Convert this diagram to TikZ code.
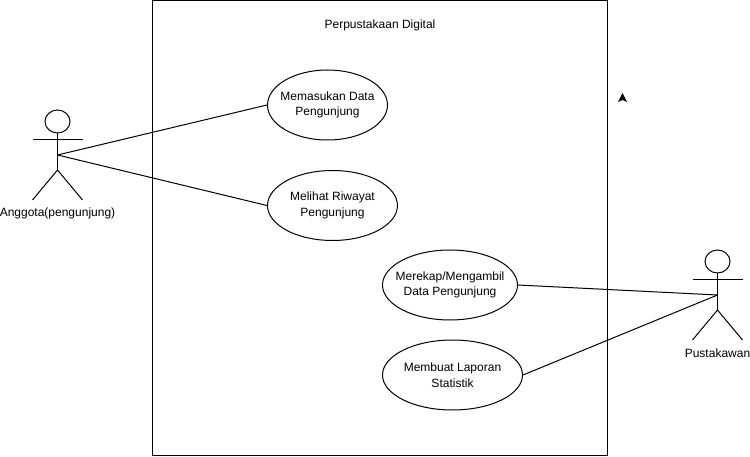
\documentclass[tikz,border=0pt]{standalone}
\usepackage{fontspec}
\setmainfont{Liberation Sans}
\usetikzlibrary{shapes.geometric}
\tikzset{
  uc/.style={draw=black,fill=white,ellipse,inner sep=0pt,line width=1pt},
  lbl/.style={inner sep=0pt,align=center,font=\fontsize{12}{15.5}\selectfont},
  ln/.style={draw=black,line width=1pt}
}
\begin{document}
\begin{tikzpicture}[x=1pt,y=-1pt]
\useasboundingbox (0,0) rectangle (750,457);
\fill[white] (0,0) rectangle (750,457);
\node[draw=black,line width=1pt,minimum width=455pt,minimum height=455pt,inner sep=0pt,anchor=north west] (sys) at (152,0) {};
\node[lbl] (title) at (380,25) {Perpustakaan Digital};
\node[uc,minimum width=120pt,minimum height=70pt,label={[lbl]center:Memasukan Data\\Pengunjung}] (u1) at (327.5,105) {};
\node[uc,minimum width=130pt,minimum height=70pt,label={[lbl]center:Melihat Riwayat\\Pengunjung}] (u2) at (332.5,205.5) {};
\node[uc,minimum width=135pt,minimum height=70pt,label={[lbl]center:Merekap/Mengambil\\Data Pengunjung}] (u3) at (450,285) {};
\node[uc,minimum width=140pt,minimum height=70pt,label={[lbl]center:Membuat Laporan\\Statistik}] (u4) at (452.5,375) {};
% left actor
\node[draw=black,line width=1pt,ellipse,inner sep=0pt,minimum width=25pt,minimum height=23pt] (h1) at (57.5,121.5) {};
\coordinate (c1) at (57.5,155);
\coordinate (b1) at (57.5,170);
\coordinate (al1) at (32.5,140);
\coordinate (ar1) at (82.5,140);
\coordinate (ll1) at (32.5,200);
\coordinate (lr1) at (82.5,200);
\draw[ln] (h1) -- (b1);
\draw[ln] (al1) -- (ar1);
\draw[ln] (ll1) -- (b1) -- (lr1);
\node[lbl] (t1) at (57.5,213.5) {Anggota(pengunjung)};
% right actor
\node[draw=black,line width=1pt,ellipse,inner sep=0pt,minimum width=25pt,minimum height=23pt] (h2) at (717.5,261.5) {};
\coordinate (c2) at (717.5,295);
\coordinate (b2) at (717.5,310);
\coordinate (al2) at (692.5,280);
\coordinate (ar2) at (742.5,280);
\coordinate (ll2) at (692.5,340);
\coordinate (lr2) at (742.5,340);
\draw[ln] (h2) -- (b2);
\draw[ln] (al2) -- (ar2);
\draw[ln] (ll2) -- (b2) -- (lr2);
\node[lbl] (t2) at (717.5,353) {Pustakawan};
% connectors
\draw[ln] (c1) -- (u1.west);
\draw[ln] (c1) -- (u2.west);
\draw[ln] (u3.east) -- (c2);
\draw[ln] (u4.east) -- (c2);
% stray arrowhead
\fill[black] (622.5,93) -- (627,102) -- (622.5,100) -- (618,102) -- cycle;
\end{tikzpicture}
\end{document}
